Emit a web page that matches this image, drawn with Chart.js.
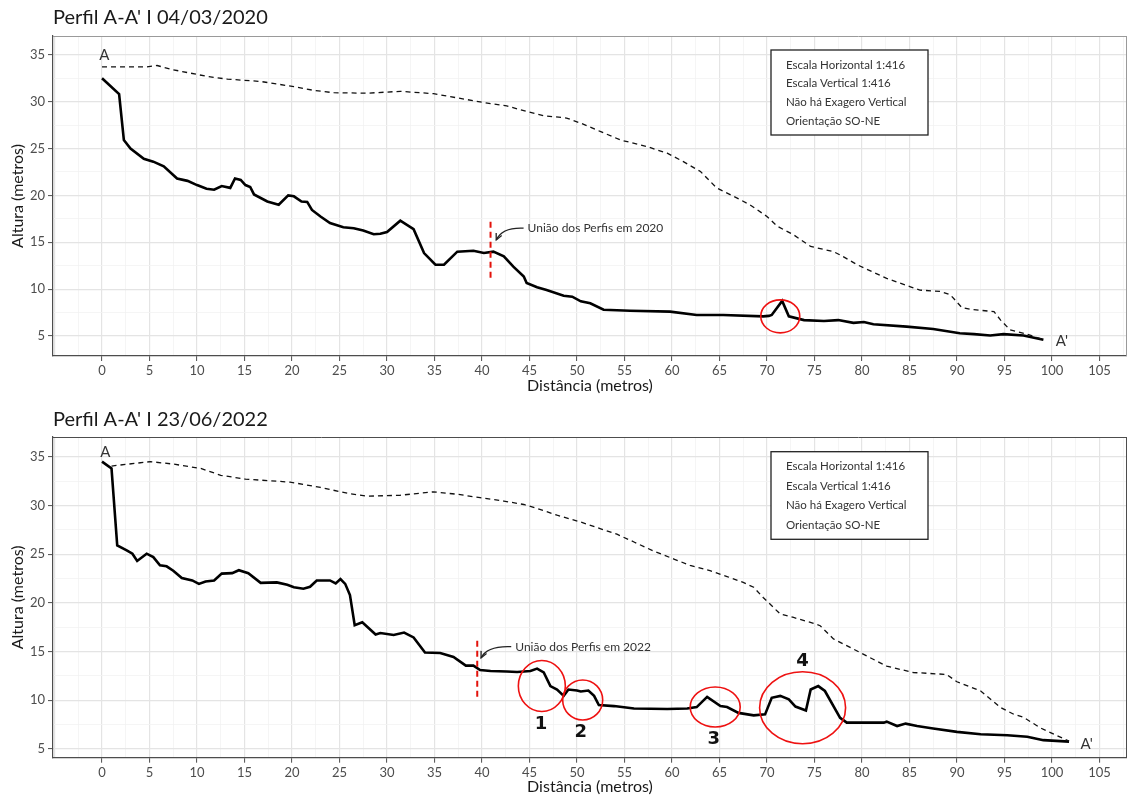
<!DOCTYPE html>
<html>
<head>
<meta charset="utf-8">
<script src="https://cdn.jsdelivr.net/npm/chart.js@4.4.1/dist/chart.umd.min.js"></script>
<style>
  body { margin: 0; background: #fff; }
  .wrap { width: 1127px; height: 398px; }
</style>
</head>
<body>
<div class="wrap"><canvas id="c2020" width="1127" height="398"></canvas></div>
<div class="wrap"><canvas id="c2022" width="1127" height="398"></canvas></div>
<script>
// perfil do terreno 04/03/2020 (linha cheia)
var dist2020 = [0, 1.8, 2.3, 3.0, 4.4, 5.4, 6.5, 7.9, 9.0, 10.0, 11.0, 11.8, 12.6, 13.5, 14.0, 14.6, 15.1, 15.6, 16.0, 17.4,
  18.6, 19.6, 20.2, 21.0, 21.6, 22.1, 23.0, 24.0, 25.4, 26.5, 27.5, 28.6, 29.3, 30.0, 31.4, 32.8, 33.9, 35.1, 36.0, 37.4,
  39.1, 40.2, 41.2, 42.3, 43.3, 44.4, 44.7, 45.8, 46.8, 48.6, 49.5, 50.4, 51.4, 52.8, 55.6, 59.8, 62.6, 65.4, 69.6, 70.2,
  70.5, 71.6, 72.3, 73.9, 76.0, 77.5, 79.1, 80.2, 81.2, 84.7, 87.5, 90.3, 91.8, 93.5, 94.9, 97.0, 99.1];
var alt2020 = [32.5, 30.8, 25.9, 25.0, 23.9, 23.6, 23.1, 21.8, 21.55, 21.1, 20.7, 20.6, 21.0, 20.8, 21.8, 21.65, 21.1, 20.9, 20.1, 19.35,
  19.0, 20.0, 19.9, 19.35, 19.3, 18.45, 17.75, 17.05, 16.6, 16.5, 16.25, 15.85, 15.9, 16.1, 17.3, 16.4, 13.85, 12.6, 12.6, 14.0,
  14.1, 13.85, 14.0, 13.5, 12.4, 11.35, 10.65, 10.2, 9.9, 9.3, 9.2, 8.7, 8.5, 7.8, 7.7, 7.6, 7.25, 7.25, 7.1, 7.15,
  7.25, 8.75, 7.1, 6.7, 6.6, 6.7, 6.4, 6.5, 6.25, 6.0, 5.75, 5.3, 5.2, 5.05, 5.2, 5.05, 4.6];

// superficie de referencia 2020 (tracejada)
var distRef2020 = [0, 4.7, 5.8, 7.5, 11.0, 13.2, 16.7, 20.2, 22.3, 24.4, 27.9, 31.4, 34.9, 37.4, 40.2, 42.6, 44.7, 46.5, 48.9, 50.4,
  52.5, 54.6, 57.4, 59.5, 61.2, 63.0, 64.7, 66.5, 68.2, 70.0, 71.1, 72.8, 74.6, 77.0, 77.7, 79.5, 82.6, 85.1, 86.1, 88.3,
  89.3, 90.5, 91.4, 93.9, 94.6, 95.6, 97.4, 99.1];
var altRef2020 = [33.7, 33.7, 33.85, 33.4, 32.7, 32.4, 32.15, 31.6, 31.2, 30.95, 30.9, 31.1, 30.85, 30.4, 29.9, 29.55, 28.95, 28.5, 28.25, 27.7,
  26.8, 25.9, 25.2, 24.5, 23.6, 22.55, 20.8, 19.9, 19.0, 17.75, 16.7, 15.8, 14.55, 14.0, 13.65, 12.6, 11.15, 10.25, 9.9, 9.75,
  9.4, 8.05, 7.85, 7.6, 6.7, 5.65, 5.2, 4.6];

// perfil do terreno 23/06/2022 (linha cheia)
var dist2022 = [0.0, 1.0, 1.6, 2.6, 3.2, 3.7, 4.7, 5.4, 6.1, 6.8, 7.5, 8.4, 9.5, 10.2, 10.9, 11.8, 12.6, 13.7, 14.4, 15.4,
  16.7, 18.4, 19.5, 20.2, 21.2, 21.9, 22.6, 24.0, 24.6, 25.1, 25.6, 26.1, 26.6, 27.4, 28.8, 29.3, 30.7, 31.8, 32.8, 34.0,
  35.6, 37.0, 38.3, 39.1, 39.8, 40.9, 42.6, 43.7, 45.1, 45.8, 46.5, 47.2, 47.9, 48.6, 49.1, 50.0, 50.4, 51.2, 51.8, 52.3,
  53.9, 56.0, 59.5, 61.6, 62.6, 63.7, 65.1, 65.8, 67.0, 68.6, 69.8, 70.5, 71.4, 72.3, 73.0, 74.1, 74.6, 75.4, 76.1, 77.7,
  78.4, 82.3, 82.6, 83.7, 84.6, 85.8, 87.5, 90.0, 92.5, 95.3, 97.4, 99.1, 101.8];
var alt2022 = [34.5, 33.8, 25.9, 25.4, 25.05, 24.3, 25.05, 24.7, 23.85, 23.75, 23.3, 22.55, 22.3, 21.95, 22.2, 22.3, 23.0, 23.05, 23.35, 23.05,
  22.05, 22.1, 21.85, 21.6, 21.45, 21.65, 22.3, 22.3, 22.0, 22.45, 21.95, 20.8, 17.7, 18.0, 16.75, 16.9, 16.7, 16.95, 16.45, 14.9,
  14.85, 14.45, 13.55, 13.55, 13.1, 13.0, 12.95, 12.9, 13.0, 13.25, 12.85, 11.45, 11.1, 10.45, 11.1, 11.0, 10.9, 11.0, 10.45, 9.5,
  9.4, 9.15, 9.1, 9.15, 9.3, 10.35, 9.4, 9.3, 8.7, 8.45, 8.55, 10.25, 10.45, 10.1, 9.35, 8.95, 11.1, 11.45, 10.95, 8.2,
  7.7, 7.7, 7.8, 7.35, 7.6, 7.35, 7.1, 6.75, 6.5, 6.4, 6.25, 5.9, 5.75];

// superficie de referencia 2022 (tracejada)
var distRef2022 = [1.0, 5.1, 7.5, 10.4, 12.5, 15.1, 19.8, 23.0, 26.1, 27.9, 31.4, 34.9, 37.4, 39.8, 42.3, 44.4, 45.8, 47.9, 50.4, 52.5,
  54.2, 56.0, 58.1, 60.2, 61.9, 64.0, 65.8, 67.5, 68.6, 69.6, 71.4, 72.8, 74.9, 75.6, 77.0, 78.1, 79.8, 82.6, 85.4, 88.9,
  90.0, 92.5, 94.6, 96.0, 97.0, 98.8, 101.8];
var altRef2022 = [34.05, 34.5, 34.25, 33.8, 33.1, 32.7, 32.4, 31.85, 31.2, 30.95, 31.05, 31.4, 31.15, 30.8, 30.45, 30.1, 29.7, 29.0, 28.3, 27.6,
  27.05, 26.25, 25.3, 24.5, 23.85, 23.3, 22.7, 22.1, 21.6, 20.55, 18.85, 18.5, 17.9, 17.65, 16.3, 15.75, 14.9, 13.5, 12.85, 12.65,
  11.9, 10.95, 9.25, 8.55, 8.25, 7.15, 5.8];

var infoLines = ['Escala Horizontal 1:416', 'Escala Vertical 1:416', 'Não há Exagero Vertical', 'Orientação SO-NE'];

var FONT = 'Lato, "Noto Sans", sans-serif';

function onStep(v, s) {
  return Math.abs(v / s - Math.round(v / s)) < 1e-6;
}

function toPoints(xs, ys) {
  return xs.map(function (d, i) { return { x: d, y: ys[i] }; });
}

function arrowTo(ctx, x0, y0, cx, cy, x1, y1) {
  ctx.beginPath();
  ctx.moveTo(x0, y0);
  ctx.quadraticCurveTo(cx, cy, x1, y1);
  ctx.stroke();
  var ang = Math.atan2(y1 - cy, x1 - cx);
  ctx.beginPath();
  ctx.moveTo(x1 - 7 * Math.cos(ang - 0.45), y1 - 7 * Math.sin(ang - 0.45));
  ctx.lineTo(x1, y1);
  ctx.lineTo(x1 - 7 * Math.cos(ang + 0.45), y1 - 7 * Math.sin(ang + 0.45));
  ctx.stroke();
}

function annotations(cfg) {
  return {
    id: 'annot',
    afterDraw: function (chart) {
      var ctx = chart.ctx, a = chart.chartArea;
      var sx = chart.scales.x, sy = chart.scales.y;
      function px(v) { return sx.getPixelForValue(v); }
      function py(v) { return sy.getPixelForValue(v); }
      ctx.save();

      // moldura superior / direita
      ctx.strokeStyle = cfg.frameColor;
      ctx.lineWidth = 1;
      ctx.beginPath();
      ctx.moveTo(a.left, a.top + 0.5);
      ctx.lineTo(a.right, a.top + 0.5);
      ctx.moveTo(a.right - 0.5, a.top);
      ctx.lineTo(a.right - 0.5, a.bottom);
      ctx.stroke();

      // titulo
      ctx.fillStyle = '#1a1a1a';
      ctx.font = '20px ' + FONT;
      ctx.textAlign = 'left';
      ctx.textBaseline = 'middle';
      ctx.fillText(cfg.title, a.left, cfg.titleY);

      // A e A'
      ctx.fillStyle = '#333';
      ctx.font = '15px ' + FONT;
      ctx.textAlign = 'center';
      ctx.fillText('A', px(cfg.labelA[0]), py(cfg.labelA[1]));
      ctx.textAlign = 'left';
      ctx.fillText("A'", px(cfg.labelA2[0]), py(cfg.labelA2[1]));

      // linha de uniao
      ctx.strokeStyle = '#e3120b';
      ctx.lineWidth = 2;
      ctx.setLineDash([6, 4]);
      ctx.beginPath();
      ctx.moveTo(px(cfg.union.x), py(cfg.union.y0));
      ctx.lineTo(px(cfg.union.x), py(cfg.union.y1));
      ctx.stroke();
      ctx.setLineDash([]);

      // seta e texto
      var tx = px(cfg.note.tx), ty = py(cfg.note.ty);
      var hx = px(cfg.note.hx), hy = py(cfg.note.hy);
      ctx.strokeStyle = '#222';
      ctx.lineWidth = 1.3;
      arrowTo(ctx, tx - 4, ty, hx + 6, ty - 1, hx, hy);
      ctx.fillStyle = '#333';
      ctx.font = '12px ' + FONT;
      ctx.textAlign = 'left';
      ctx.fillText(cfg.note.text, tx, ty);

      // circulos
      ctx.strokeStyle = '#ee1111';
      ctx.lineWidth = 1.6;
      cfg.circles.forEach(function (c) {
        ctx.beginPath();
        ctx.ellipse(px(c.x), py(c.y), c.rx, c.ry, 0, 0, Math.PI * 2);
        ctx.stroke();
        if (c.label) {
          ctx.fillStyle = '#111';
          ctx.font = 'bold 18px "DejaVu Sans", ' + FONT;
          ctx.textAlign = 'center';
          ctx.fillText(c.label, px(c.lx), py(c.ly));
        }
      });

      // caixa de informacao
      var bx = a.left + 718, by = a.top + cfg.boxTop;
      ctx.fillStyle = '#fff';
      ctx.fillRect(bx, by, 157, cfg.boxH);
      ctx.strokeStyle = '#222';
      ctx.lineWidth = 1.3;
      ctx.strokeRect(bx, by, 157, cfg.boxH);
      ctx.fillStyle = '#333';
      ctx.font = '11.5px ' + FONT;
      ctx.textAlign = 'left';
      infoLines.forEach(function (t, i) {
        ctx.fillText(t, bx + 15, by + 15 + i * cfg.lineGap);
      });

      ctx.restore();
    }
  };
}

function makeProfile(id, cfg) {
  var major = function (v) { return v >= 0 && onStep(v, 5); };
  var gridColor = function (c) {
    if (!c.tick) return '#e6e6e6';
    return onStep(c.tick.value, 5) ? '#e4e4e4' : '#f2f2f2';
  };
  var gridWidth = function (c) {
    if (!c.tick) return 1;
    return onStep(c.tick.value, 5) ? 1.2 : 0.8;
  };
  var tickColor = function (c) {
    if (!c.tick) return '#4d4d4d';
    return major(c.tick.value) ? '#4d4d4d' : 'rgba(0,0,0,0)';
  };
  var label = function (v) {
    return major(v) ? String(Math.round(v)) : '';
  };

  return new Chart(document.getElementById(id), {
    type: 'line',
    data: {
      datasets: [{
        data: toPoints(cfg.refX, cfg.refY),
        borderColor: '#111',
        borderWidth: 1.3,
        borderDash: [5, 4],
        pointRadius: 0,
        tension: 0
      }, {
        data: toPoints(cfg.lineX, cfg.lineY),
        borderColor: '#000',
        borderWidth: 2.6,
        pointRadius: 0,
        tension: 0
      }]
    },
    options: {
      responsive: false,
      animation: false,
      devicePixelRatio: 1,
      layout: { padding: { top: cfg.padTop, left: 0, right: 0, bottom: 0 } },
      plugins: { legend: { display: false }, tooltip: { enabled: false } },
      scales: {
        x: {
          type: 'linear',
          min: -5.16,
          max: 107.9,
          ticks: {
            stepSize: 2.5, autoSkip: false, maxRotation: 0, includeBounds: false,
            callback: label, color: '#4d4d4d', font: { family: FONT, size: 13 }, padding: 2
          },
          grid: { color: gridColor, lineWidth: gridWidth, tickColor: tickColor, tickLength: 5, tickWidth: 1 },
          border: { color: '#4d4d4d', width: 1.2 },
          title: {
            display: true, text: 'Distância (metros)', color: '#1a1a1a',
            font: { family: FONT, size: 16 }, padding: { top: 0, bottom: cfg.xTitlePad }
          },
          afterFit: function (s) { s.height = cfg.xAxisH; }
        },
        y: {
          type: 'linear',
          min: cfg.yMin,
          max: cfg.yMax,
          ticks: {
            stepSize: 2.5, autoSkip: false, includeBounds: false,
            callback: label, color: '#4d4d4d', font: { family: FONT, size: 13 }, padding: 3
          },
          grid: { color: gridColor, lineWidth: gridWidth, tickColor: tickColor, tickLength: 5, tickWidth: 1 },
          border: { color: '#4d4d4d', width: 1.2 },
          title: {
            display: true, text: 'Altura (metros)', color: '#1a1a1a',
            font: { family: FONT, size: 16 }, padding: { top: 8, bottom: 0 }
          },
          afterFit: function (s) { s.width = 53; }
        }
      }
    },
    plugins: [annotations(cfg)]
  });
}

makeProfile('c2020', {
  lineX: dist2020, lineY: alt2020, refX: distRef2020, refY: altRef2020,
  yMin: 2.87, yMax: 37.0, padTop: 36, xAxisH: 42, xTitlePad: 3,
  title: "Perfil A-A' I 04/03/2020", titleY: 18, frameColor: '#9a9a9a',
  labelA: [0.25, 35.0], labelA2: [100.4, 4.4],
  union: { x: 40.9, y0: 17.2, y1: 10.8 },
  note: { text: 'União dos Perfis em 2020', tx: 44.8, ty: 16.5, hx: 41.5, hy: 15.25 },
  circles: [{ x: 71.4, y: 7.1, rx: 19.5, ry: 16.5 }],
  boxTop: 14, boxH: 85, lineGap: 18.6
});

makeProfile('c2022', {
  lineX: dist2022, lineY: alt2022, refX: distRef2022, refY: altRef2022,
  yMin: 4.1, yMax: 37.03, padTop: 39, xAxisH: 38.3, xTitlePad: 0,
  title: "Perfil A-A' I 23/06/2022", titleY: 22, frameColor: '#4d4d4d',
  labelA: [0.35, 35.45], labelA2: [103.0, 5.5],
  union: { x: 39.5, y0: 16.1, y1: 10.1 },
  note: { text: 'União dos Perfis em 2022', tx: 43.5, ty: 15.5, hx: 39.9, hy: 14.35 },
  circles: [
    { x: 46.3, y: 11.46, rx: 23.5, ry: 25.5, label: '1', lx: 46.2, ly: 7.5 },
    { x: 50.6, y: 10.02, rx: 20, ry: 20, label: '2', lx: 50.4, ly: 6.72 },
    { x: 64.55, y: 9.3, rx: 25, ry: 20, label: '3', lx: 64.4, ly: 5.97 },
    { x: 73.75, y: 9.23, rx: 43, ry: 36, label: '4', lx: 73.75, ly: 14.04 }
  ],
  boxTop: 14.7, boxH: 87.6, lineGap: 19.5
});
</script>
</body>
</html>
